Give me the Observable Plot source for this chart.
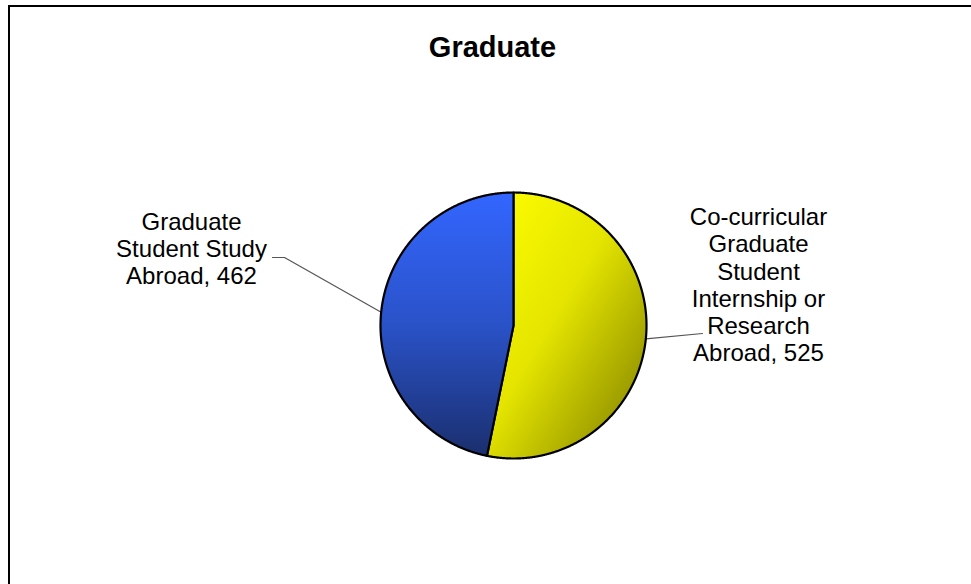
<!DOCTYPE html>
<html><head><meta charset="utf-8">
<script src="https://cdn.jsdelivr.net/npm/d3@7"></script>
<script src="https://cdn.jsdelivr.net/npm/@observablehq/plot@0.6"></script>
<style>
html,body{margin:0;padding:0;background:#fff;}
#chart{position:relative;width:971px;height:584px;overflow:hidden;}
#frame{position:absolute;left:8px;top:5px;width:1000px;height:1000px;border-top:2px solid #000;border-left:2px solid #000;box-sizing:border-box;}
#chart svg{position:absolute;left:0;top:0;}
</style></head><body><div id="chart"><div id="frame"></div></div>
<script>
// ---- data ----
const title = "Graduate";
const categories = ["Co-curricular Graduate Student Internship or Research Abroad", "Graduate Student Study Abroad"];
const values = [525, 462];
const labelText = ["Co-curricular\nGraduate\nStudent\nInternship or\nResearch\nAbroad, 525", "Graduate\nStudent Study\nAbroad, 462"];
const gradientIds = ["gYellow", "gBlue"];

// ---- layout (pixels) ----
const W = 971, H = 584, cx = 513, cy = 325, R = 133;
// label block centres and leader end points (pixels)
const labelPos = [{x: 758, y: 284, lx: 702, ly: 333, ex: null}, {x: 191, y: 248, lx: 272, ly: 257, ex: 284}];

const ux = px => (px - cx) / R, uy = py => (py - cy) / R;

const arcs = d3.pie().sort(null).value(d => d)(values);

const slicePts = arcs.map((a, i) => {
  const pts = [{x: 0, y: 0}];
  const n = Math.max(2, Math.ceil((a.endAngle - a.startAngle) / 0.005));
  for (let k = 0; k <= n; k++) {
    const t = a.startAngle + (a.endAngle - a.startAngle) * k / n;
    pts.push({x: Math.sin(t), y: -Math.cos(t)});
  }
  pts.push({x: 0, y: 0});
  return pts;
});

// leader lines from the mid-angle of each slice
const leaders = arcs.map((a, i) => {
  const m = (a.startAngle + a.endAngle) / 2;
  const p = labelPos[i];
  const pts = [{x: Math.sin(m), y: -Math.cos(m)}];
  if (p.ex != null) pts.push({x: ux(p.ex), y: uy(p.ly)});
  pts.push({x: ux(p.lx), y: uy(p.ly)});
  return pts;
});

const labels = labelText.map((t, i) => ({text: t, x: ux(labelPos[i].x), y: uy(labelPos[i].y)}));

const marks = [];
leaders.forEach(l => marks.push(Plot.line(l, {x: "x", y: "y", stroke: "#555", strokeWidth: 1.2})));
slicePts.forEach((pts, i) => marks.push(Plot.line(pts, {x: "x", y: "y", fill: `url(#${gradientIds[i]})`, stroke: "#000", strokeWidth: 2.2, strokeLinejoin: "round"})));
marks.push(Plot.text(labels, {x: "x", y: "y", text: "text", fontSize: 24, lineHeight: 1.135, fill: "#000", fontFamily: "Liberation Sans, Arial, sans-serif"}));
marks.push(Plot.text([title], {x: () => ux(492), y: () => uy(47), text: d => d, fontSize: 29, fontWeight: "bold", fill: "#000", fontFamily: "Liberation Sans, Arial, sans-serif"}));

const svg = Plot.plot({
  width: W, height: H,
  margin: 0,
  x: {domain: [ux(0), ux(W)], range: [0, W], axis: null},
  y: {domain: [uy(0), uy(H)], range: [0, H], axis: null},
  style: {background: "transparent", fontFamily: "Liberation Sans, Arial, sans-serif"},
  marks
});

const ns = "http://www.w3.org/2000/svg";
const defs = document.createElementNS(ns, "defs");
defs.innerHTML = `
<linearGradient id="gYellow" x1="0" y1="0" x2="1" y2="1">
  <stop offset="0" stop-color="#ffff00"/>
  <stop offset="0.45" stop-color="#e4e400"/>
  <stop offset="1" stop-color="#7a7a00"/>
</linearGradient>
<linearGradient id="gBlue" x1="0" y1="0" x2="0" y2="1">
  <stop offset="0" stop-color="#3366ff"/>
  <stop offset="0.5" stop-color="#2a52c8"/>
  <stop offset="1" stop-color="#1b2f6e"/>
</linearGradient>`;
svg.insertBefore(defs, svg.firstChild);
document.getElementById("chart").appendChild(svg);
</script>
</body></html>
